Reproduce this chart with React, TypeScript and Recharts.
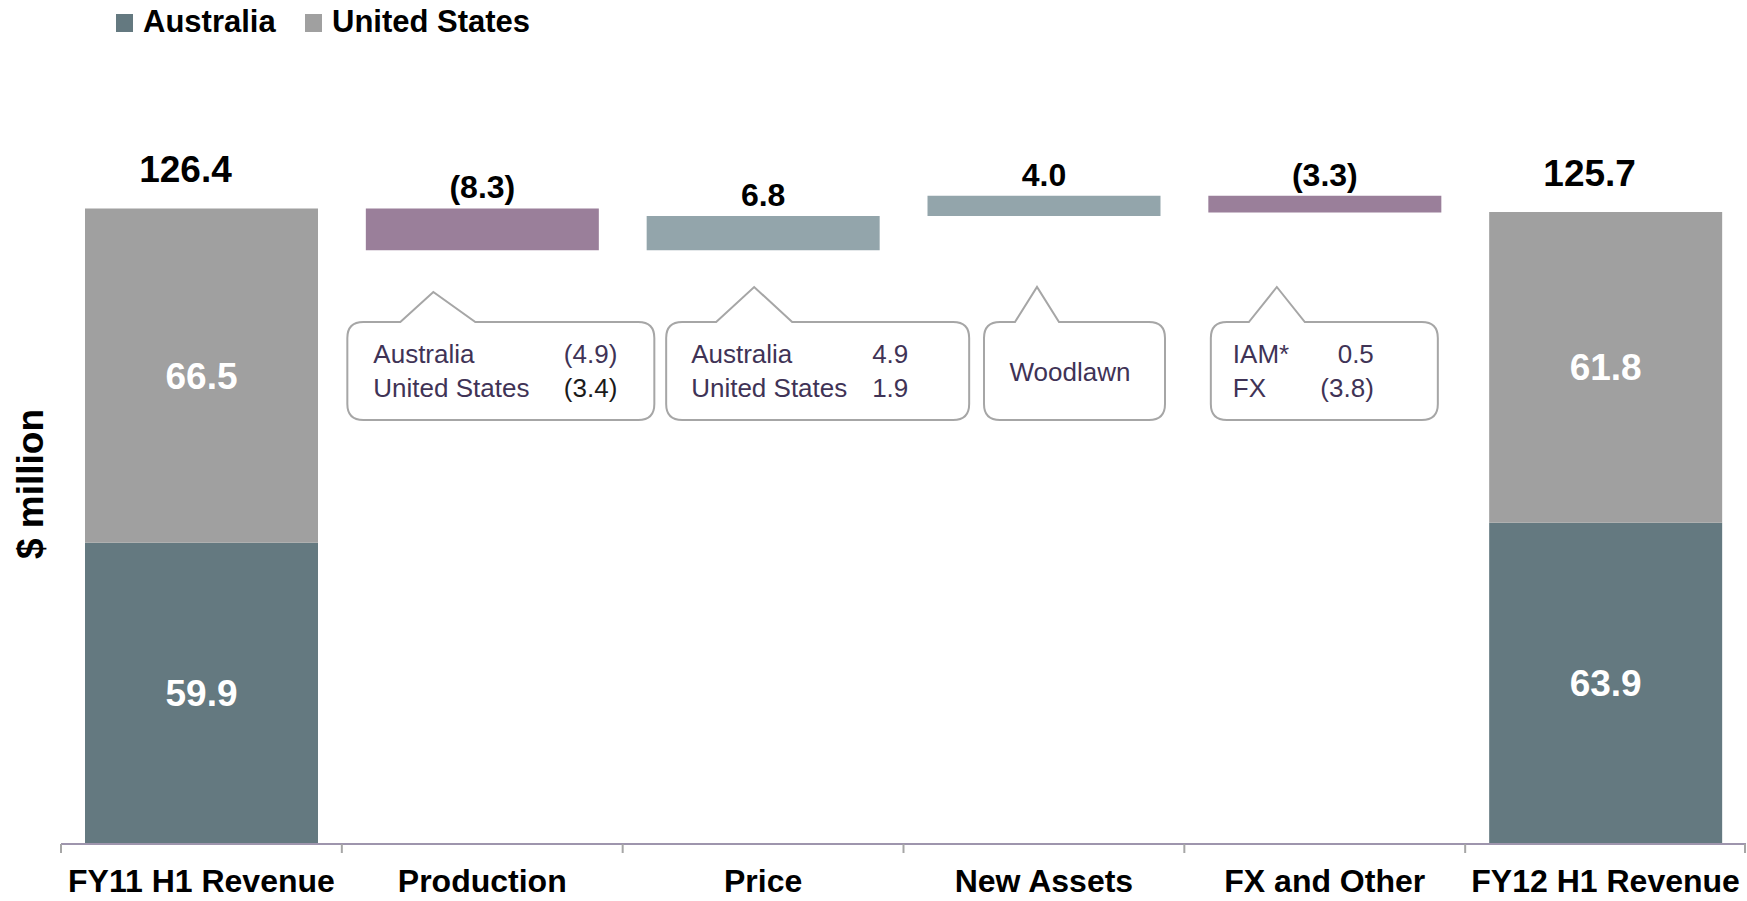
import React from 'react';
import { BarChart, Bar, XAxis, YAxis, Cell, LabelList } from 'recharts';

// revenue bridge, $ million
const categories = ['FY11 H1 Revenue', 'Production', 'Price', 'New Assets', 'FX and Other', 'FY12 H1 Revenue'];
const australia: (number | null)[] = [59.9, null, null, null, null, 63.9];
const unitedStates: (number | null)[] = [66.5, null, null, null, null, 61.8];
const changes: (number | null)[] = [null, -8.3, 6.8, 4.0, -3.3, null];

// callout text per category: [label, value] rows
const calloutRows: string[][][] = [
  [],
  [['Australia', '(4.9)'], ['United States', '(3.4)']],
  [['Australia', '4.9'], ['United States', '1.9']],
  [['Woodlawn', '']],
  [['IAM*', '0.5'], ['FX', '(3.8)']],
  [],
];

const seriesNames = ['Australia', 'United States'];

const AUS_COLOR = '#647980';
const US_COLOR = '#a0a0a0';
const NEG_COLOR = '#9a7f9a';
const POS_COLOR = '#93a5ab';
const NOTE_COLOR = '#3f3356';

const W = 1747;
const H = 901;
const LEFT = 61;
const AXIS_Y = 844;
const BAND = (W - LEFT - 1) / categories.length;
const FONT = '"Liberation Sans", Arial, Helvetica, sans-serif';

// callout box geometry, offsets from the bar centre
const calloutLayout: any[] = [
  null,
  { left: -135, right: 172, apexX: -49, apexY: 292, baseL: -82, baseR: -7, textX: -109, valX: 135, valAnchor: 'end', darkRow: 1 },
  { left: -97, right: 206, apexX: -9, apexY: 287, baseL: -47, baseR: 29, textX: -72, valX: 109, valAnchor: 'start' },
  { left: -60, right: 121, apexX: -7, apexY: 287, baseL: -29, baseR: 15, textX: 26, textAnchor: 'middle' },
  { left: -114, right: 113, apexX: -48, apexY: 287, baseL: -76, baseR: -20, textX: -92, valX: 49, valAnchor: 'end' },
  null,
];
const BOX_TOP = 322;
const BOX_BOTTOM = 420;

const fmt = (v: number) => (v < 0 ? `(${Math.abs(v).toFixed(1)})` : v.toFixed(1));

let running = 0;
const data = categories.map((name, i) => {
  const ch = changes[i];
  if (ch == null) {
    running = (australia[i] ?? 0) + (unitedStates[i] ?? 0);
    return { name, idx: i, aus: australia[i], us: unitedStates[i], base: null, delta: null, change: null, total: running.toFixed(1), label: null };
  }
  const base = ch < 0 ? running + ch : running;
  running += ch;
  return { name, idx: i, aus: null, us: null, base, delta: Math.abs(ch), change: ch, total: null, label: fmt(ch) };
});

const geom = (p: any) => {
  const v = p.viewBox && p.viewBox.width != null ? p.viewBox : p;
  return { x: Number(v.x), y: Number(v.y), width: Number(v.width), height: Number(v.height) };
};

const TotalLabel = (p: any) => {
  if (p.value == null) return null;
  const { x, y, width } = geom(p);
  return (
    <text x={x + width / 2 - 16} y={y - 26} textAnchor="middle" fontSize={37} fontWeight="bold" fill="#000" fontFamily={FONT}>
      {p.value}
    </text>
  );
};

const InnerLabel = (p: any) => {
  if (p.value == null) return null;
  const { x, y, width, height } = geom(p);
  return (
    <text x={x + width / 2} y={y + height / 2 + 13} textAnchor="middle" fontSize={37} fontWeight="bold" fill="#fff" fontFamily={FONT}>
      {Number(p.value).toFixed(1)}
    </text>
  );
};

const DeltaLabel = (p: any) => {
  if (p.value == null) return null;
  const { x, y, width } = geom(p);
  return (
    <text x={x + width / 2} y={y - 10} textAnchor="middle" fontSize={32} fontWeight="bold" fill="#000" fontFamily={FONT}>
      {p.value}
    </text>
  );
};

const Callout = (p: any) => {
  const i = p.value;
  if (i == null) return null;
  const L = calloutLayout[i];
  const rows = calloutRows[i];
  if (!L || !rows || !rows.length) return null;
  const { x, width } = geom(p);
  const cx = x + width / 2;
  const l = cx + L.left;
  const r = cx + L.right;
  const t = BOX_TOP;
  const b = BOX_BOTTOM;
  const rad = 16;
  const d = `M ${l + rad} ${t} L ${cx + L.baseL} ${t} L ${cx + L.apexX} ${L.apexY} L ${cx + L.baseR} ${t} L ${r - rad} ${t}
    Q ${r} ${t} ${r} ${t + rad} L ${r} ${b - rad} Q ${r} ${b} ${r - rad} ${b} L ${l + rad} ${b}
    Q ${l} ${b} ${l} ${b - rad} L ${l} ${t + rad} Q ${l} ${t} ${l + rad} ${t} Z`;
  const baselines = rows.length === 1 ? [381] : [363, 397];
  return (
    <g fontFamily={FONT} fontSize={26}>
      <path d={d} fill="#fff" stroke="#a6a6a6" strokeWidth={2} />
      {rows.map((row, k) => (
        <g key={k}>
          <text x={cx + L.textX} y={baselines[k]} textAnchor={L.textAnchor || 'start'} fill={NOTE_COLOR}>
            {row[0]}
          </text>
          {row[1] ? (
            <text x={cx + L.valX} y={baselines[k]} textAnchor={L.valAnchor} fill={L.darkRow === k ? '#1a1a1a' : NOTE_COLOR}>
              {row[1]}
            </text>
          ) : null}
        </g>
      ))}
    </g>
  );
};

const CategoryTick = (p: any) => {
  const { x, index, payload } = p;
  const edge = x - BAND / 2;
  const last = index === categories.length - 1;
  return (
    <g>
      <line x1={edge} x2={edge} y1={AXIS_Y} y2={AXIS_Y + 9} stroke="#a6a6a6" strokeWidth={2} />
      {last ? <line x1={x + BAND / 2 - 1} x2={x + BAND / 2 - 1} y1={AXIS_Y} y2={AXIS_Y + 9} stroke="#a6a6a6" strokeWidth={2} /> : null}
      <text x={x} y={892} textAnchor="middle" fontSize={32} fontWeight="bold" fill="#000" fontFamily={FONT}>
        {payload.value}
      </text>
    </g>
  );
};

const YLabel = (p: any) => {
  const v = p.viewBox || { x: 0, y: 140, width: LEFT, height: 704 };
  const tx = v.x + 43;
  const ty = v.y + v.height / 2 - 8;
  return (
    <text x={tx} y={ty} transform={`rotate(-90, ${tx}, ${ty})`} textAnchor="middle" fontSize={37} fontWeight="bold" fill="#000" fontFamily={FONT}>
      $ million
    </text>
  );
};

const legendX = [116, 305];
const legendColors = [AUS_COLOR, US_COLOR];

export default function App() {
  return (
    <div style={{ position: 'absolute', left: 0, top: 0, width: W, height: H, background: '#fff', fontFamily: FONT }}>
      <BarChart
        width={W}
        height={H}
        data={data}
        margin={{ top: 140, right: 1, bottom: 0, left: 0 }}
        barCategoryGap={24}
      >
        <XAxis
          dataKey="name"
          height={57}
          interval={0}
          tickLine={false}
          axisLine={{ stroke: '#9e95ad', strokeWidth: 2 }}
          tick={<CategoryTick />}
        />
        <YAxis width={LEFT} domain={[0, 140]} tick={false} axisLine={false} tickLine={false} label={<YLabel />} />
        <Bar dataKey="base" stackId="w" fill="transparent" isAnimationActive={false} />
        <Bar dataKey="aus" stackId="w" fill={AUS_COLOR} isAnimationActive={false}>
          <LabelList dataKey="aus" content={<InnerLabel />} />
        </Bar>
        <Bar dataKey="us" stackId="w" fill={US_COLOR} isAnimationActive={false}>
          <LabelList dataKey="us" content={<InnerLabel />} />
          <LabelList dataKey="total" content={<TotalLabel />} />
        </Bar>
        <Bar dataKey="delta" stackId="w" isAnimationActive={false}>
          {data.map((d, i) => (
            <Cell key={i} fill={d.change != null && d.change < 0 ? NEG_COLOR : POS_COLOR} />
          ))}
          <LabelList dataKey="label" content={<DeltaLabel />} />
          <LabelList dataKey="idx" content={<Callout />} />
        </Bar>
      </BarChart>
      <svg width={600} height={50} style={{ position: 'absolute', left: 0, top: 0 }}>
        {seriesNames.map((s, i) => (
          <g key={s}>
            <rect x={legendX[i]} y={14} width={17} height={18} fill={legendColors[i]} />
            <text x={legendX[i] + 27} y={32} fontSize={31} fontWeight="bold" fill="#000" fontFamily={FONT}>
              {s}
            </text>
          </g>
        ))}
      </svg>
    </div>
  );
}
